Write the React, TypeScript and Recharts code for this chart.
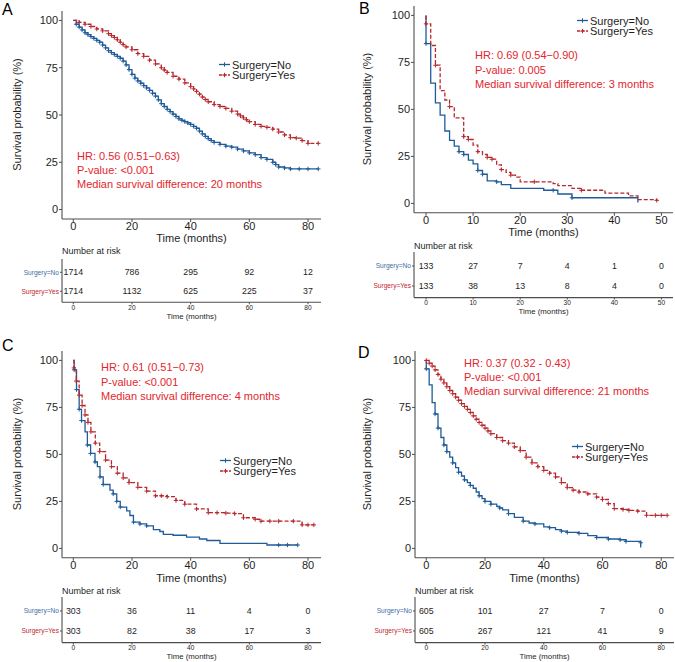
import React from 'react';
import { LineChart, Line, XAxis, YAxis, ScatterChart, Scatter } from 'recharts';

const FONT = '"Liberation Sans", Arial, Helvetica, sans-serif';
const BLUE = '#1f5b98';
const RED = '#b7282e';
const ANN = '#e3262d';
const AXIS = '#4d4d4d';
const TXT = '#1e1e1e';
const RISK_BLUE = '#3b6ea6';
const RISK_RED = '#c2282e';

// ---- survival curves: [time (months), survival (%), censored flag] ----
const survA_No: number[][] = [
  [0, 100], [1, 98, 1], [2, 96.5, 1], [3, 95, 1], [4, 93.5, 1], [5, 92.5, 1], [6, 91.5, 1], [7, 90.5, 1],
  [8, 89.5, 1], [9, 88.5, 1], [10, 87, 1], [11, 85.5, 1], [12, 84, 1], [13, 83, 1], [14, 82, 1],
  [15, 81, 1], [16, 80, 1], [17, 78.5, 1], [18, 76.5, 1], [19, 74, 1], [20, 71.5, 1], [21, 69.5, 1],
  [22, 68, 1], [23, 66.8, 1], [24, 65.5, 1], [25, 64.3, 1], [26, 63, 1], [27, 61.5, 1], [28, 60, 1],
  [29, 58, 1], [30, 56, 1], [31, 54.5, 1], [32, 53, 1], [33, 51.8, 1], [34, 50.5, 1], [35, 49.2, 1],
  [36, 48, 1], [37, 47.2, 1], [38, 46.5, 1], [39, 45.8, 1], [40, 45, 1], [41, 44, 1], [42, 43, 1],
  [43, 41.5, 1], [44, 40, 1], [45, 38.7, 1], [46, 37.5, 1], [47, 36.5, 1], [48, 35.5, 1], [50, 34.5, 1],
  [52, 33.5, 1], [54, 33, 1], [56, 32, 1], [58, 31, 1], [60, 30, 1], [62, 29, 1], [64, 27.5, 1],
  [66, 26.5, 1], [68, 25, 1], [69, 23.8, 1], [70, 22.5, 1], [72, 22, 1], [74, 21.5, 1], [77, 21.5, 1],
  [80, 21.5, 1], [83.5, 21.5, 1],
];
const survA_Yes: number[][] = [
  [0, 100], [2, 99, 1], [4, 98, 1], [6, 96.8, 1], [8, 95.5, 1], [10, 94.5, 1], [12, 93, 1], [13, 92, 1],
  [14, 91, 1], [15, 89.8, 1], [16, 88.5, 1], [17, 87.2, 1], [18, 86, 1], [20, 84.5, 1], [22, 82.5, 1],
  [24, 81, 1], [26, 79, 1], [28, 77, 1], [30, 75, 1], [31, 73.8, 1], [32, 72.5, 1], [34, 70.5, 1],
  [36, 69, 1], [38, 67, 1], [40, 65, 1], [41, 63.8, 1], [42, 62.5, 1], [43, 61, 1], [44, 59.5, 1],
  [45, 58.2, 1], [46, 57, 1], [48, 55.5, 1], [50, 54.5, 1], [52, 53.5, 1], [54, 52, 1], [56, 50.5, 1],
  [57, 49.5, 1], [58, 48.5, 1], [59, 47.5, 1], [60, 46.5, 1], [62, 45, 1], [64, 44, 1], [66, 43.5, 1],
  [68, 42.5, 1], [70, 41, 1], [72, 39.5, 1], [74, 38, 1], [76, 37.8, 1], [78, 36.5, 1], [80, 35, 1],
  [83.5, 35, 1],
];
const survB_No: number[][] = [
  [0, 100], [0, 85, 1], [1, 64], [2, 53.5], [3, 47], [4, 38.5], [5, 33.5], [6, 30.5], [7, 27.5, 1],
  [8, 26, 1], [9, 23], [10, 21], [11, 17.5, 1], [12, 15.5, 1], [13, 12], [15, 11.5, 1], [16, 10],
  [18, 8], [25, 7], [27, 7, 1], [28, 5], [31, 3, 1], [45, 3], [45, 0.5],
];
const survB_Yes: number[][] = [
  [0, 100], [0, 95.5, 1], [1, 84], [2, 73.5, 1], [3, 60], [4, 55], [5, 51.5, 1], [6, 45.5],
  [8, 35.5, 1], [9, 34, 1], [10, 31], [11, 27.5, 1], [12, 26], [13, 24.5, 1], [14, 23.5, 1],
  [15, 20.5], [16, 18, 1], [17, 16.5], [18, 15, 1], [19, 14], [20, 11.5], [23, 11.5, 1],
  [27, 10.5], [28, 9.5], [31, 8], [33, 7, 1], [38, 5.5], [43, 4], [45, 2], [49, 1.6, 1],
];
const survC_No: number[][] = [
  [0, 100], [0.3, 95, 1], [1.1, 84.5, 1], [2, 74, 1], [2.8, 68, 1], [4, 62], [4.8, 55, 1],
  [5.9, 50.5, 1], [7.4, 46, 1], [8.2, 43.5], [9.1, 38, 1], [10.2, 34, 1], [12.5, 31], [13.6, 29, 1],
  [14.8, 25, 1], [16, 22, 1], [18.2, 20], [19.3, 17.5], [20.5, 14, 1], [22.7, 13, 1], [25, 12, 1],
  [27.3, 10], [29.5, 9], [30.7, 7.5], [34, 7], [38.6, 6], [43, 5], [45.5, 4.2], [50, 2.7],
  [66, 1.8], [70, 1.8, 1], [73, 1.8, 1], [76.5, 1.8, 1],
];
const survC_Yes: number[][] = [
  [0, 100], [0.2, 96, 1], [1, 89, 1], [2, 81.5, 1], [3, 76, 1], [4, 71, 1], [5, 67, 1], [6, 62, 1],
  [7.5, 56, 1], [9, 51.5, 1], [11, 47, 1], [13, 43.5, 1], [15, 40, 1], [17, 37.5, 1], [19, 35, 1],
  [22, 32.5, 1], [25, 30.5, 1], [28, 28, 1], [30, 28, 1], [32, 27.5, 1], [35, 25.5, 1], [38, 23.5, 1],
  [42, 21, 1], [46, 19, 1], [49, 19, 1], [52, 18.8, 1], [55, 18.5, 1], [58, 16.3, 1], [62, 15.5, 1],
  [64, 14.5, 1], [67, 14.5, 1], [70, 14.5, 1], [75, 14.5, 1], [78, 12.5, 1], [80, 12.5, 1], [82, 12.5, 1],
];
const survD_No: number[][] = [
  [0, 100], [0, 95.5, 1], [1, 87], [2, 77.5], [3, 71.5, 1], [4, 64, 1], [5, 59], [6, 55, 1],
  [7, 51.5, 1], [8, 48.5], [9, 45.5, 1], [10, 43], [11, 40.5, 1], [12, 38.5], [13, 36.5, 1],
  [14, 35], [15, 33.5, 1], [16, 32], [17, 30], [18, 28, 1], [19, 26.5], [20, 25, 1], [22, 23.5, 1],
  [24, 22.3], [25, 21.5, 1], [26, 20.5], [28, 18.5, 1], [30, 16.5], [33, 14.5, 1], [35, 13.5],
  [37, 13, 1], [40, 11.5], [42, 11, 1], [44, 10], [46, 9.2, 1], [48, 8.5, 1], [52, 8, 1], [55, 6.8],
  [58, 5.8, 1], [62, 5, 1], [66, 4.6, 1], [68, 3.7, 1], [73, 3, 1], [73, 0.5],
];
const survD_Yes: number[][] = [
  [0, 100, 1], [1, 98.5, 1], [2, 97, 1], [3, 95, 1], [4, 92.5, 1], [5, 90, 1], [6, 88, 1], [7, 86, 1],
  [8, 84, 1], [9, 82.3, 1], [10, 80.5, 1], [11, 78.8, 1], [12, 77, 1], [13, 75.5, 1], [14, 74, 1],
  [15, 72.3, 1], [16, 70.5, 1], [17, 68.7, 1], [18, 67, 1], [19, 65.5, 1], [20, 64, 1], [21, 62.5, 1],
  [22, 61, 1], [24, 59, 1], [26, 57.3, 1], [28, 56, 1], [30, 54, 1], [32, 52, 1], [34, 48.5, 1],
  [36, 45.5, 1], [38, 43.5, 1], [40, 41.5, 1], [42, 40, 1], [44, 38, 1], [46, 35, 1], [48, 32.3, 1],
  [50, 31, 1], [52, 30, 1], [55, 29, 1], [58, 27.3, 1], [60, 26, 1], [62, 23.8, 1], [64, 21.2, 1],
  [67, 20.7, 1], [69, 20.2, 1], [72, 19.8, 1], [75, 17.6, 1], [78, 17.6, 1], [80, 17.6, 1], [82, 17.6, 1],
];

// ---- numbers at risk ----
const riskTimesA = [0, 20, 40, 60, 80];
const riskNoA = [1714, 786, 295, 92, 12];
const riskYesA = [1714, 1132, 625, 225, 37];
const riskTimesB = [0, 10, 20, 30, 40, 50];
const riskNoB = [133, 27, 7, 4, 1, 0];
const riskYesB = [133, 38, 13, 8, 4, 0];
const riskTimesC = [0, 20, 40, 60, 80];
const riskNoC = [303, 36, 11, 4, 0];
const riskYesC = [303, 82, 38, 17, 3];
const riskTimesD = [0, 20, 40, 60, 80];
const riskNoD = [605, 101, 27, 7, 0];
const riskYesD = [605, 267, 121, 41, 9];

// ---- tick labels ----
const ticks80 = [0, 20, 40, 60, 80];
const ticks50 = [0, 10, 20, 30, 40, 50];
const yTicks = [0, 25, 50, 75, 100];
const groupLabels = ['Surgery=No', 'Surgery=Yes'];

const annA = ['HR: 0.56 (0.51\u22120.63)', 'P-value: <0.001', 'Median survival difference: 20 months'];
const annB = ['HR: 0.69 (0.54\u22120.90)', 'P-value: 0.005', 'Median survival difference: 3 months'];
const annC = ['HR: 0.61 (0.51\u22120.73)', 'P-value: <0.001', 'Median survival difference: 4 months'];
const annD = ['HR: 0.37 (0.32 - 0.43)', 'P-value: <0.001', 'Median survival difference: 21 months'];

const toPts = (a: number[][]) => a.map(([t, s, c]) => ({ t, s, c: c ? 1 : 0 }));
const toRisk = (times: number[], no: number[], yes: number[]) => [
  ...times.map((t, i) => ({ t, row: 2, n: no[i] })),
  ...times.map((t, i) => ({ t, row: 1, n: yes[i] })),
];

const Plus = ({ cx, cy, color }: any) => (
  <g>
    <line x1={cx - 2.2} x2={cx + 2.2} y1={cy} y2={cy} stroke={color} strokeWidth={1} />
    <line x1={cx} x2={cx} y1={cy - 2.2} y2={cy + 2.2} stroke={color} strokeWidth={1} />
  </g>
);

const censorDot = (color: string) => (p: any) =>
  p && p.payload && p.payload.c ? (
    <Plus key={`c${p.index}`} cx={p.cx} cy={p.cy} color={color} />
  ) : (
    <g key={`n${p.index}`} />
  );

type Geo = {
  px0: number; pw: number; dom: [number, number];
  kmTop: number; kmBottom: number; riskTop: number; riskBottom: number; yw: number;
};

const KM = ({ g, no, yes, xTicks }: { g: Geo; no: any[]; yes: any[]; xTicks: number[] }) => {
  const mt = 4, xh = 16, mr = 4;
  const W = g.yw + g.pw + mr;
  const H = mt + (g.kmBottom - g.kmTop) + xh;
  return (
    <div style={{ position: 'absolute', left: g.px0 - g.yw, top: g.kmTop - mt, fontFamily: FONT }}>
      <LineChart width={W} height={H} margin={{ top: mt, right: mr, bottom: 0, left: 0 }}>
        <XAxis type="number" dataKey="t" domain={g.dom} allowDataOverflow ticks={xTicks} interval={0}
          height={xh} tickSize={3} tickMargin={0.5} stroke={AXIS}
          tick={{ fontSize: 11, fill: TXT }} axisLine={{ stroke: AXIS, strokeWidth: 1.1 }}
          tickLine={{ stroke: AXIS }} />
        <YAxis type="number" domain={[-5, 105]} allowDataOverflow ticks={yTicks} interval={0}
          width={g.yw} tickSize={3} tickMargin={1} stroke={AXIS}
          tick={{ fontSize: 11, fill: TXT }} axisLine={{ stroke: AXIS, strokeWidth: 1.1 }}
          tickLine={{ stroke: AXIS }} />
        <Line data={no} dataKey="s" type="stepAfter" stroke={BLUE} strokeWidth={1.3}
          dot={censorDot(BLUE)} activeDot={false} isAnimationActive={false} />
        <Line data={yes} dataKey="s" type="stepAfter" stroke={RED} strokeWidth={1.3}
          strokeDasharray="4 2" dot={censorDot(RED)} activeDot={false} isAnimationActive={false} />
      </LineChart>
    </div>
  );
};

const RiskTick = (props: any) => {
  const { x, y, payload } = props;
  const isNo = payload.value === 2;
  return (
    <text x={x} y={y} dy="0.35em" textAnchor="end" fontSize={6.6} fill={isNo ? RISK_BLUE : RISK_RED}>
      {isNo ? groupLabels[0] : groupLabels[1]}
    </text>
  );
};

const RiskCell = (p: any) => (
  <text x={p.cx} y={p.cy} dy="0.35em" textAnchor="middle" fontSize={8.8} fill={TXT}>
    {p.payload.n}
  </text>
);

const Risk = ({ g, data, xTicks }: { g: Geo; data: any[]; xTicks: number[] }) => {
  const mt = 2, xh = 12, mr = 4;
  const W = g.yw + g.pw + mr;
  const H = mt + (g.riskBottom - g.riskTop) + xh;
  return (
    <div style={{ position: 'absolute', left: g.px0 - g.yw, top: g.riskTop - mt, fontFamily: FONT }}>
      <ScatterChart width={W} height={H} margin={{ top: mt, right: mr, bottom: 0, left: 0 }}>
        <XAxis type="number" dataKey="t" domain={g.dom} allowDataOverflow ticks={xTicks} interval={0}
          height={xh} tickSize={2} tickMargin={1} stroke={AXIS}
          tick={{ fontSize: 6.6, fill: TXT }} axisLine={{ stroke: AXIS, strokeWidth: 1.1 }}
          tickLine={{ stroke: AXIS }} />
        <YAxis type="number" dataKey="row" domain={[0.42, 2.7]} allowDataOverflow ticks={[1, 2]} interval={0}
          width={g.yw} tickSize={2} tickMargin={1} stroke={AXIS} tick={<RiskTick />}
          axisLine={{ stroke: AXIS, strokeWidth: 1.1 }} tickLine={{ stroke: AXIS }} />
        <Scatter data={data} shape={RiskCell} isAnimationActive={false} />
      </ScatterChart>
    </div>
  );
};

const geoA: Geo = { px0: 62, pw: 259, dom: [-3.85, 84.43], kmTop: 10.5, kmBottom: 218.5, riskTop: 258.7, riskBottom: 302, yw: 62 };
const geoB: Geo = { px0: 414, pw: 259, dom: [-2.55, 52.45], kmTop: 5.6, kmBottom: 212.4, riskTop: 252, riskBottom: 297.6, yw: 79 };
const geoC: Geo = { px0: 62, pw: 259, dom: [-3.85, 84.43], kmTop: 350.6, kmBottom: 557.4, riskTop: 597, riskBottom: 642.6, yw: 62 };
const geoD: Geo = { px0: 415, pw: 259, dom: [-3.83, 84.34], kmTop: 350.6, kmBottom: 557.4, riskTop: 597, riskBottom: 642.6, yw: 80 };

const LegendKey = ({ x, y, color, dashed }: any) => (
  <g>
    <line x1={x} x2={x + 11} y1={y} y2={y} stroke={color} strokeWidth={1.3} strokeDasharray={dashed ? '3 1.5' : undefined} />
    <Plus cx={x + 5.5} cy={y} color={color} />
  </g>
);

const Legend = ({ x, y }: { x: number; y: number }) => (
  <g>
    <LegendKey x={x} y={y} color={BLUE} />
    <LegendKey x={x} y={y + 10.5} color={RED} dashed />
    <text x={x + 13} y={y} dominantBaseline="central" fontSize={11} fill={TXT}>{groupLabels[0]}</text>
    <text x={x + 13} y={y + 10.5} dominantBaseline="central" fontSize={11} fill={TXT}>{groupLabels[1]}</text>
  </g>
);

const Ann = ({ x, ys, lines }: { x: number; ys: number[]; lines: string[] }) => (
  <g>
    {lines.map((l, i) => (
      <text key={i} x={x} y={ys[i]} dominantBaseline="central" fontSize={11} fill={ANN}>{l}</text>
    ))}
  </g>
);

const Titles = ({ g, kmTitleY, riskTitleY, riskHeadY, yTitleX }: any) => {
  const cx = g.px0 + g.pw / 2;
  const cy = (g.kmTop + g.kmBottom) / 2;
  return (
    <g>
      <text x={cx} y={kmTitleY} textAnchor="middle" dominantBaseline="central" fontSize={11} fill={TXT}>Time (months)</text>
      <text transform={`translate(${yTitleX},${cy}) rotate(-90)`} textAnchor="middle" dominantBaseline="central" fontSize={11} fill={TXT}>Survival probability (%)</text>
      <text x={g.px0} y={riskHeadY} dominantBaseline="central" fontSize={9} fill={TXT}>Number at risk</text>
      <text x={cx} y={riskTitleY} textAnchor="middle" dominantBaseline="central" fontSize={7.8} fill={TXT}>Time (months)</text>
    </g>
  );
};

export default function App() {
  return (
    <div style={{ position: 'absolute', left: 0, top: 0, width: 675, height: 662, background: '#fff', fontFamily: FONT }}>
      <KM g={geoA} no={toPts(survA_No)} yes={toPts(survA_Yes)} xTicks={ticks80} />
      <Risk g={geoA} data={toRisk(riskTimesA, riskNoA, riskYesA)} xTicks={ticks80} />
      <KM g={geoB} no={toPts(survB_No)} yes={toPts(survB_Yes)} xTicks={ticks50} />
      <Risk g={geoB} data={toRisk(riskTimesB, riskNoB, riskYesB)} xTicks={ticks50} />
      <KM g={geoC} no={toPts(survC_No)} yes={toPts(survC_Yes)} xTicks={ticks80} />
      <Risk g={geoC} data={toRisk(riskTimesC, riskNoC, riskYesC)} xTicks={ticks80} />
      <KM g={geoD} no={toPts(survD_No)} yes={toPts(survD_Yes)} xTicks={ticks80} />
      <Risk g={geoD} data={toRisk(riskTimesD, riskNoD, riskYesD)} xTicks={ticks80} />
      <svg width={675} height={662} style={{ position: 'absolute', left: 0, top: 0, pointerEvents: 'none', fontFamily: FONT }}>
        <text x={2} y={15} fontSize={16} fill="#000">A</text>
        <text x={359} y={14} fontSize={16} fill="#000">B</text>
        <text x={2} y={351} fontSize={16} fill="#000">C</text>
        <text x={358} y={358} fontSize={16} fill="#000">D</text>
        <Titles g={geoA} kmTitleY={237.5} riskHeadY={251} riskTitleY={316} yTitleX={17} />
        <Titles g={geoB} kmTitleY={231.5} riskHeadY={246} riskTitleY={311} yTitleX={367} />
        <Titles g={geoC} kmTitleY={577.5} riskHeadY={591} riskTitleY={656} yTitleX={17} />
        <Titles g={geoD} kmTitleY={577.5} riskHeadY={591} riskTitleY={656} yTitleX={367} />
        <Legend x={219} y={64.5} />
        <Legend x={577} y={20.5} />
        <Legend x={220} y={460.5} />
        <Legend x={572} y={446.5} />
        <Ann x={77} ys={[156, 170, 184]} lines={annA} />
        <Ann x={475} ys={[55, 70, 84]} lines={annB} />
        <Ann x={101} ys={[367, 382, 396]} lines={annC} />
        <Ann x={464} ys={[363, 377, 391]} lines={annD} />
      </svg>
    </div>
  );
}
